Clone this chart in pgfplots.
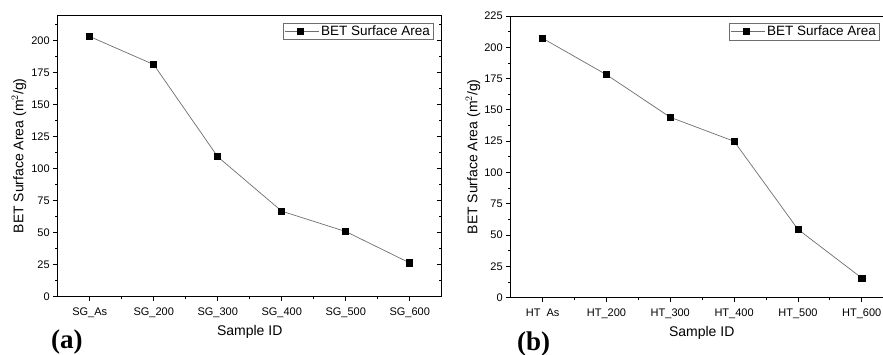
\documentclass[border=0pt]{standalone}
\usepackage{fontspec}
\setmainfont{Liberation Sans}
\newfontfamily\labfont{Liberation Serif}
\usepackage{pgfplots}
\pgfplotsset{compat=1.18}

\definecolor{linegray}{RGB}{110,110,110}
\definecolor{leggray}{RGB}{110,110,110}

\pgfplotstableread{
x y
0 203.2
1 181.3
2 109.3
3 66.8
4 50.9
5 26.4
}\sgdata
\pgfplotstableread{
x y
0 207.2
1 178.1
2 144.1
3 124.9
4 54.6
5 15.7
}\htdata

\pgfplotsset{
  panel/.style={
    scale only axis,
    anchor=south west,
    xmin=-0.5, xmax=5.5, ymin=0,
    xtick={0,1,2,3,4,5},
    minor xtick={0.5,1.5,2.5,3.5,4.5},
    ytick distance=25,
    tick align=outside, xtick pos=left, ytick pos=left,
    major tick length=4.5pt, minor tick length=2.5pt,
    every tick/.style={black, line width=0.8pt},
    axis line style={black, line width=0.9pt},
    ticklabel style={font=\fontsize{11}{13}\selectfont},
    xticklabel style={yshift=-3pt},
    label style={font=\fontsize{14}{16}\selectfont},
    /pgf/number format/assume math mode=true,
    xlabel={Sample ID},
    ylabel={BET Surface Area (m$^{2}$/g)},
    legend cell align=left,
    legend image code/.code={%
      \path (0pt,0pt) -- (34pt,0pt);
      \draw[mark repeat=2,mark phase=2,#1] plot coordinates {(0pt,0pt) (15.5pt,0pt) (31pt,0pt)};},
    legend style={at={(1,1)}, anchor=north east, draw=leggray, line width=0.6pt,
      inner xsep=1pt, inner ysep=0.5pt,
      font=\fontsize{13.5}{15}\selectfont},
  },
  rightticks/.style={
    scale only axis,
    anchor=south west,
    xmin=-0.5, xmax=5.5, ymin=0,
    hide x axis,
    axis y line*=right,
    ytick distance=25,
    tick align=inside,
    yticklabels={},
    major tick length=4.5pt, minor tick length=2.5pt,
    every tick/.style={black, line width=0.8pt},
    axis line style={black, line width=0.9pt},
  },
  series/.style={color=linegray, line width=0.7pt, mark=square*, mark size=3.1pt,
    mark options={fill=black, draw=black, solid}},
}

\begin{document}
\begin{tikzpicture}
% ---- panel (a)
\begin{axis}[panel,
  at={(57.7pt,58.3pt)}, width=384pt, height=281.7pt,
  ymax=220,
  minor ytick={12.5,37.5,...,212.5},
  xticklabels={SG\_As,SG\_200,SG\_300,SG\_400,SG\_500,SG\_600},
  xlabel style={at={(axis description cs:0.5,-0.1264)}, anchor=center},
  ylabel style={at={(axis description cs:-0.1008,0.5)}, anchor=center},
  legend style={xshift=-8.4pt, yshift=-7.7pt},
]
\addplot[series] table[x=x,y=y] {\sgdata};
\addlegendentry{BET Surface Area}
\end{axis}
\begin{axis}[rightticks,
  at={(57.7pt,58.3pt)}, width=384pt, height=281.7pt,
  ymax=220,
  minor ytick={12.5,37.5,...,212.5},
]
\addplot[draw=none] coordinates {(0,0)};
\end{axis}
% ---- panel (b)
\begin{axis}[panel,
  at={(510.7pt,57.3pt)}, width=383pt, height=281.7pt,
  ymax=225,
  minor ytick={12.5,37.5,...,212.5},
  xticklabels={HT\phantom{\_}As,HT\_200,HT\_300,HT\_400,HT\_500,HT\_600},
  xlabel style={at={(axis description cs:0.4987,-0.1264)}, anchor=center},
  ylabel style={at={(axis description cs:-0.0984,0.5)}, anchor=center},
  legend style={xshift=-14.4pt, yshift=-7.3pt},
]
\addplot[series] table[x=x,y=y] {\htdata};
\addlegendentry{BET Surface Area}
\end{axis}
\begin{axis}[rightticks,
  at={(510.7pt,57.3pt)}, width=383pt, height=281.7pt,
  ymax=225,
  minor ytick={12.5,37.5,...,212.5},
]
\addplot[draw=none] coordinates {(0,0)};
\end{axis}
% ---- panel letters
\node[anchor=north west, inner sep=0pt, font=\labfont\bfseries\fontsize{27}{30}\selectfont] at (51pt,25pt) {(a)};
\node[anchor=north west, inner sep=0pt, font=\labfont\bfseries\fontsize{27}{30}\selectfont] at (517pt,23.3pt) {(b)};
\pgfresetboundingbox
\path[use as bounding box] (0,0) rectangle (883pt,355pt);
\end{tikzpicture}
\end{document}
